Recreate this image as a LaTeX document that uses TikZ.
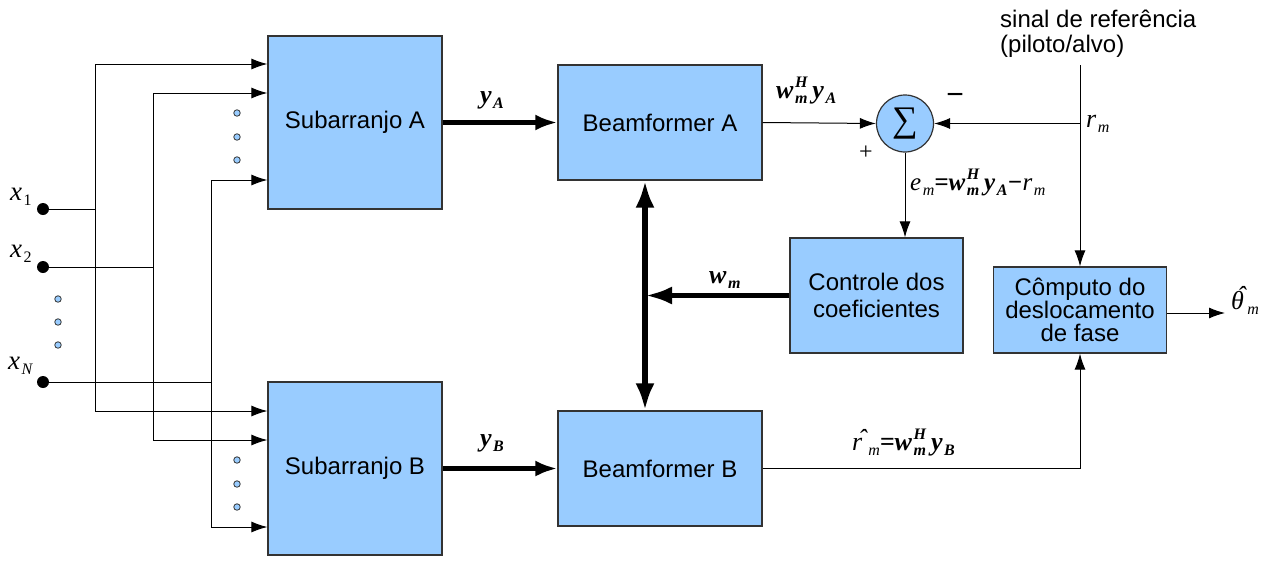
\documentclass[tikz,border=0pt]{standalone}
\usepackage{fontspec}
\setmainfont{Liberation Sans}
\newfontfamily\tnr{Liberation Serif}
\usetikzlibrary{arrows.meta}
\definecolor{boxblue}{HTML}{99CCFF}
\definecolor{edge}{HTML}{333333}
\newcommand\BI[1]{{\tnr\bfseries\itshape #1}}
\newcommand\TI[1]{{\tnr\itshape #1}}
\newcommand\sBI[1]{{\fontsize{16}{16}\selectfont\tnr\bfseries\itshape #1}}
\newcommand\sTI[1]{{\fontsize{16}{16}\selectfont\tnr\itshape #1}}
\newcommand\sTR[1]{{\fontsize{16}{16}\selectfont\tnr #1}}
\newcommand\Sb[1]{\kern1.5pt\raisebox{-5pt}{#1}}
\newcommand\SbSp[2]{\kern1.5pt\ooalign{\raisebox{-5pt}{#2}\cr\raisebox{11pt}{#1}\cr}}
\tikzset{
  blk/.style={draw=edge, line width=1.2pt, fill=boxblue, inner sep=0pt,
    font=\fontsize{24}{27}\selectfont, align=center},
  ln/.style={line width=1pt, draw=black},
  arr/.style={ln, -{Latex[length=16pt,width=11pt]}},
  tarr/.style={line width=5.5pt, -{Latex[length=22pt,width=16pt]}},
  warr/.style={line width=5.5pt, -{Latex[length=27pt,width=18pt]}},
  dtarr/.style={line width=5.5pt, {Latex[length=27pt,width=19pt]}-{Latex[length=27pt,width=19pt]}},
  inp/.style={circle, fill=black, minimum size=12pt, inner sep=0pt},
  sdot/.style={circle, draw=edge, fill=boxblue, line width=0.8pt, minimum size=6.5pt, inner sep=0pt},
  lbl/.style={inner sep=0pt, font=\fontsize{26}{26}\selectfont},
}
\begin{document}
\begin{tikzpicture}[x=1pt,y=-1pt]
\useasboundingbox (0,0) rectangle (1263,560);

% blocks
\node[blk, minimum width=174pt, minimum height=173pt] (subA) at (355,122.5) {Subarranjo A};
\node[blk, minimum width=174pt, minimum height=173pt] (subB) at (355,468.5) {Subarranjo B};
\node[blk, minimum width=204pt, minimum height=115pt] (bfA) at (660,122.5) {Beamformer A};
\node[blk, minimum width=204pt, minimum height=115pt] (bfB) at (660,468.5) {Beamformer B};
\node[blk, minimum width=173pt, minimum height=115pt] (ctrl) at (876.5,295.5) {Controle dos\\coeficientes};
\node[blk, minimum width=173pt, minimum height=86pt, font=\fontsize{24}{23}\selectfont] (comp) at (1080,310) {Cômputo do\\deslocamento\\de fase};
\node[circle, draw=edge, line width=1.2pt, fill=boxblue, minimum size=57pt, inner sep=0pt] (sum) at (905,123.5) {\raisebox{-3pt}{\fontsize{36}{36}\selectfont\tnr ∑}};

% inputs
\node[inp] (x1) at (43,209) {};
\node[inp] (x2) at (43,267) {};
\node[inp] (xN) at (43,382) {};
\node[lbl, anchor=base west, font=\fontsize{27}{27}\selectfont] (lx1) at (10,200) {\TI{x}\Sb{\sTR{1}}};
\node[lbl, anchor=base west, font=\fontsize{27}{27}\selectfont] (lx2) at (10,257) {\TI{x}\Sb{\sTR{2}}};
\node[lbl, anchor=base west, font=\fontsize{27}{27}\selectfont] (lxN) at (8,369) {\TI{x}\Sb{\sTI{N}}};

% bus coordinates
\coordinate (b1t) at (95,64);  \coordinate (b1b) at (95,411);
\coordinate (b2t) at (153,93); \coordinate (b2b) at (153,440);
\coordinate (b3t) at (211,180); \coordinate (b3b) at (211,527);

\draw[ln] (x1) -- (x1 -| b1t);
\draw[ln] (x2) -- (x2 -| b2t);
\draw[ln] (xN) -- (xN -| b3t);
\draw[ln] (b1t) -- (b1b);
\draw[ln] (b2t) -- (b2b);
\draw[ln] (b3t) -- (b3b);
\draw[arr] (b1t) -- (b1t -| subA.west);
\draw[arr] (b2t) -- (b2t -| subA.west);
\draw[arr] (b3t) -- (b3t -| subA.west);
\draw[arr] (b1b) -- (b1b -| subB.west);
\draw[arr] (b2b) -- (b2b -| subB.west);
\draw[arr] (b3b) -- (b3b -| subB.west);

% small dots
\foreach \y [count=\i] in {113,137,160} {\node[sdot] (da\i) at (237,\y) {};}
\foreach \y [count=\i] in {460,484,507} {\node[sdot] (db\i) at (237,\y) {};}
\foreach \y [count=\i] in {299,322,345} {\node[sdot] (dx\i) at (58,\y) {};}

% thick paths
\draw[tarr] (subA.east) -- (bfA.west);
\draw[tarr] (subB.east) -- (bfB.west);
\node[lbl, anchor=base west] (lyA) at (480,103) {\BI{y}\Sb{\sBI{A}}};
\node[lbl, anchor=base west] (lyB) at (480,446) {\BI{y}\Sb{\sBI{B}}};

\coordinate (dbl) at (645,296);
\draw[dtarr] (bfA.south -| dbl) -- (bfB.north -| dbl);
\draw[warr] (ctrl.west) -- (ctrl.west -| dbl);
\node[lbl, anchor=base west] (lwm) at (709,283) {\BI{w}\Sb{\sBI{m}}};

% sum connections
\draw[arr] (bfA.east) -- (sum.west);
\node[lbl, anchor=base west] (lwy) at (776,98) {\BI{w}\SbSp{\sBI{H}}{\sBI{m}}\kern5pt\BI{y}\Sb{\sBI{A}}};
\coordinate (reftop) at (1080,65);
\draw[arr] (reftop) -- (comp.north);
\draw[arr] (reftop |- sum) -- (sum.east);
\node[lbl, anchor=base west] (lrm) at (1086,127) {\TI{r}\Sb{\sTI{m}}};
\node[lbl, font=\fontsize{30}{30}\selectfont] (minus) at (955,99) {−};
\node[lbl, font=\fontsize{24}{24}\selectfont\tnr] (plus) at (866,153) {+};
\draw[arr] (sum.south) -- (sum.south |- ctrl.north);
\node[lbl, anchor=base west, font=\fontsize{25}{25}\selectfont] (lem) at (910,190) {\TI{e}\Sb{\sTI{m}}\BI{=}\BI{w}\SbSp{\sBI{H}}{\sBI{m}}\kern5pt\BI{y}\Sb{\sBI{A}}\BI{−}\TI{r}\Sb{\sTI{m}}};

\node[lbl, anchor=north west, align=left, font=\fontsize{24}{25}\selectfont] (ref) at (1000,10) {sinal de referência\\(piloto/alvo)};

% B path
\draw[arr] (bfB.east) -| (comp.south);
\node[lbl, anchor=base west] (lrh) at (852,450) {\ooalign{\TI{r}\cr\kern6pt\raisebox{3pt}{\TI{ˆ}}\cr}\Sb{\sTI{m}}\BI{=}\BI{w}\SbSp{\sBI{H}}{\sBI{m}}\kern5pt\BI{y}\Sb{\sBI{B}}};

% output
\coordinate (out) at (1225,313);
\draw[arr] (comp.east |- out) -- (out);
\node[lbl, anchor=base west] (lth) at (1231,309) {\ooalign{\TI{θ}\cr\kern6pt\raisebox{5pt}{\TI{ˆ}}\cr}\Sb{\sTI{m}}};
\end{tikzpicture}
\end{document}
